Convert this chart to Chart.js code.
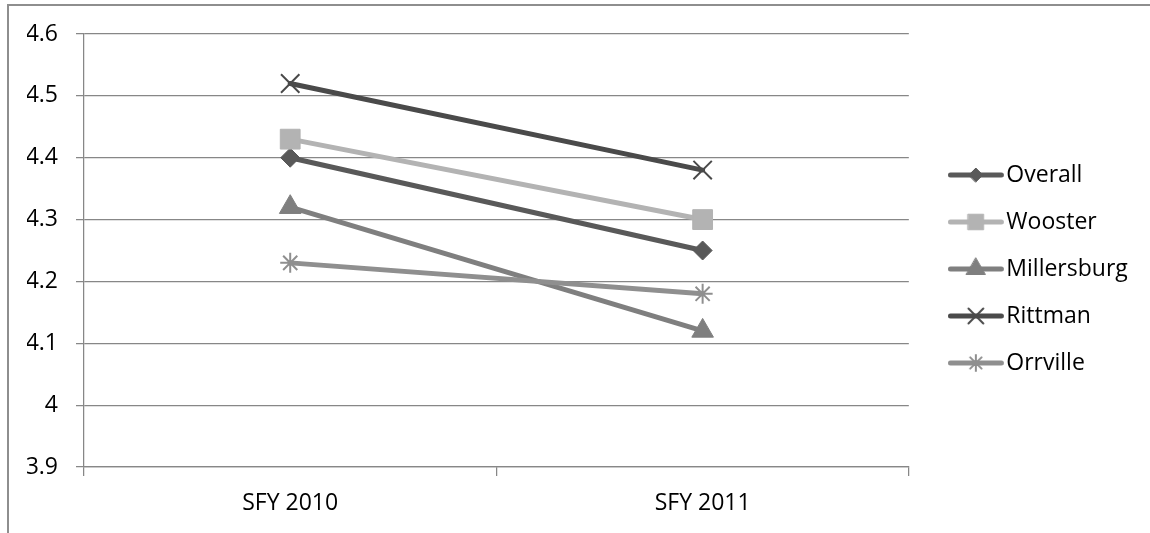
<!DOCTYPE html>
<html>
<head>
<meta charset="utf-8">
<script src="https://cdn.jsdelivr.net/npm/chart.js@4.4.1/dist/chart.umd.min.js"></script>
<style>
  html, body { margin: 0; padding: 0; background: #fff; overflow: hidden; }
  #wrap { position: relative; width: 1150px; height: 533px; }
  #wrap canvas { position: absolute; left: 0; top: 0; }
  #frame { position: absolute; left: 7px; top: 4px; width: 1200px; height: 600px;
           border: 2px solid #8e8e8e; pointer-events: none; }
</style>
</head>
<body>
<div id="wrap">
  <canvas id="chart" width="1150" height="533"></canvas>
  <div id="frame"></div>
</div>
<script>
// Survey averages by site, two fiscal years
const categories = ['SFY 2010', 'SFY 2011'];
const seriesNames = ['Overall', 'Wooster', 'Millersburg', 'Rittman', 'Orrville'];
const overall     = [4.40, 4.25];
const wooster     = [4.43, 4.30];
const millersburg = [4.32, 4.12];
const rittman     = [4.52, 4.38];
const orrville    = [4.23, 4.18];
const seriesValues = [overall, wooster, millersburg, rittman, orrville];

// Axis range
const yMin = 3.9;
const yMax = 4.6;
const yStep = 0.1;

// Look of each series
const seriesColors  = ['#595959', '#b3b3b3', '#7f7f7f', '#4a4a4a', '#8f8f8f'];
const markerStyles  = ['rectRot', 'rect', 'triangle', 'crossRot', 'star'];
const markerRadius  = [9.5, 14, 12.5, 13, 10];
const legendRadius  = [7, 11, 11, 10.5, 8];
const markerOutline = [1, 1, 1, 2, 2];

const FONT = 'Open Sans';
const GRID = '#878787';

// Line-plus-marker swatch for the legend; the blank strip on the right
// pushes the drawn symbol left so it sits just before the label text.
function legendIcon(i) {
  const c = document.createElement('canvas');
  c.width = 71; c.height = 26;
  const g = c.getContext('2d');
  g.strokeStyle = seriesColors[i];
  g.fillStyle = seriesColors[i];
  g.lineCap = 'round';
  g.lineWidth = 5;
  g.beginPath(); g.moveTo(2.5, 13); g.lineTo(53.5, 13); g.stroke();
  g.lineWidth = markerOutline[i];
  const opts = { pointStyle: markerStyles[i], radius: legendRadius[i], rotation: 0, borderWidth: markerOutline[i] };
  Chart.helpers.drawPoint(g, opts, 28, 13);
  return c;
}

function draw() {
  const datasets = seriesNames.map((name, i) => ({
    label: name,
    data: seriesValues[i],
    borderColor: seriesColors[i],
    backgroundColor: seriesColors[i],
    borderWidth: 5,
    borderCapStyle: 'round',
    borderJoinStyle: 'round',
    pointStyle: markerStyles[i],
    pointRadius: markerRadius[i],
    pointHoverRadius: markerRadius[i],
    pointBorderWidth: markerOutline[i],
    pointBackgroundColor: seriesColors[i],
    pointBorderColor: seriesColors[i],
    tension: 0,
    order: seriesNames.length - i
  }));

  new Chart(document.getElementById('chart'), {
    type: 'line',
    data: { labels: categories, datasets },
    options: {
      responsive: false,
      animation: false,
      events: [],
      layout: { padding: { left: 27, right: 18, top: 34, bottom: 15 } },
      scales: {
        x: {
          offset: true,
          grid: { display: true, drawOnChartArea: false, drawTicks: true, tickLength: 9,
                  color: GRID, lineWidth: 1.25, offset: true },
          border: { display: true, color: GRID, width: 1.25 },
          ticks: { color: '#000', padding: 14, font: { family: FONT, size: 23 } },
          afterFit: s => { s.height = 51; }
        },
        y: {
          min: yMin, max: yMax,
          grid: { color: GRID, lineWidth: 1.25, tickLength: 8 },
          border: { display: true, color: GRID, width: 1.25 },
          ticks: {
            stepSize: yStep, color: '#000', padding: 18,
            font: { family: FONT, size: 23 },
            callback: v => String(Number(v.toFixed(1)))
          },
          afterFit: s => { s.width = 57; }
        },
        gap: {
          type: 'linear', position: 'right', display: true,
          grid: { display: false }, border: { display: false }, ticks: { display: false },
          afterFit: s => { s.width = 39; }
        }
      },
      plugins: {
        tooltip: { enabled: false },
        legend: {
          position: 'right',
          align: 'center',
          fullSize: false,
          title: { display: true, text: ' ', font: { family: FONT, size: 12 }, padding: { top: 0, bottom: 22.6 } },
          labels: {
            usePointStyle: true,
            padding: 24,
            color: '#000',
            font: { family: FONT, size: 23 },
            generateLabels: chart => chart.data.datasets.map((ds, i) => ({
              text: ds.label,
              datasetIndex: i,
              pointStyle: legendIcon(i),
              fillStyle: seriesColors[i],
              strokeStyle: seriesColors[i],
              lineWidth: 0,
              hidden: false,
              fontColor: '#000'
            }))
          }
        }
      }
    }
  });
}

const ready = (document.fonts && document.fonts.load)
  ? document.fonts.load('23px "Open Sans"').catch(() => null)
  : Promise.resolve();
ready.then(draw);
</script>
</body>
</html>
